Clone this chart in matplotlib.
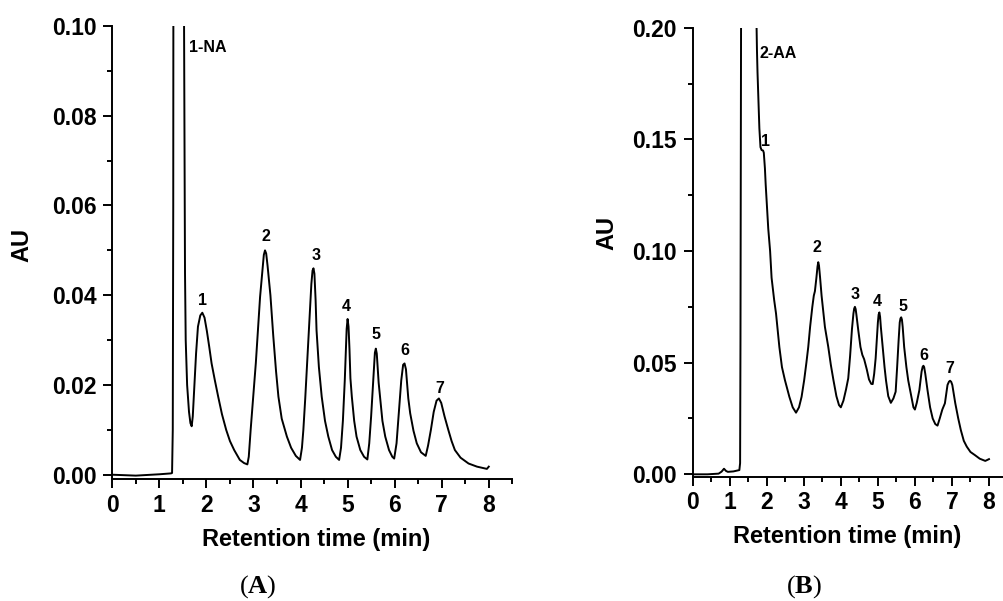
import matplotlib
matplotlib.use("Agg")
import matplotlib.pyplot as plt
from matplotlib.ticker import MultipleLocator, FormatStrFormatter

plt.rcParams['font.family'] = ['Liberation Sans', 'DejaVu Sans']
plt.rcParams['mathtext.fontset'] = 'custom'
plt.rcParams['mathtext.rm'] = 'Liberation Serif'
plt.rcParams['mathtext.bf'] = 'Liberation Serif:bold'

# ---------------- Data: panel A (1-NA) ----------------
time_A = [0.0, 0.5, 1.0, 1.25, 1.27, 1.285, 1.295, 1.30, 1.33, 1.41, 1.49, 1.52, 1.525,
          1.535, 1.545, 1.56, 1.59, 1.63, 1.66, 1.687, 1.71, 1.74, 1.78, 1.82, 1.87, 1.913,
          1.96, 2.01, 2.06, 2.11, 2.18, 2.25, 2.33, 2.42, 2.50, 2.59, 2.71, 2.80, 2.87,
          2.90, 2.94, 3.00, 3.05, 3.10, 3.14, 3.19, 3.22, 3.245, 3.27, 3.30, 3.36, 3.42, 3.48, 3.53,
          3.60, 3.71, 3.80, 3.90, 3.99, 4.03, 4.06, 4.10, 4.14, 4.19, 4.23, 4.255, 4.275, 4.295,
          4.32, 4.34, 4.39, 4.45, 4.52, 4.59, 4.67, 4.75, 4.82, 4.86, 4.90, 4.94, 4.98, 5.00,
          5.02, 5.04, 5.06, 5.09, 5.14, 5.19, 5.27, 5.35, 5.42, 5.46, 5.50, 5.54, 5.58, 5.60,
          5.62, 5.66, 5.69, 5.74, 5.80, 5.88, 5.95, 5.99, 6.04, 6.09, 6.14, 6.18, 6.21,
          6.24, 6.29, 6.33, 6.40, 6.47, 6.56, 6.66, 6.71, 6.77, 6.83, 6.89, 6.94, 6.99,
          7.06, 7.14, 7.21, 7.28, 7.40, 7.57, 7.75, 7.96, 8.0]
au_A = [0.0000, -0.0002, 0.0001, 0.0003, 0.0004, 0.010, 0.060, 0.14, 0.30, 0.40, 0.30, 0.12, 0.100,
        0.070, 0.045, 0.030, 0.020, 0.014, 0.0115, 0.0108, 0.013, 0.019, 0.027, 0.033, 0.0355, 0.0361,
        0.0350, 0.0320, 0.0285, 0.0248, 0.0210, 0.0174, 0.0135, 0.0100, 0.0075, 0.0055, 0.0033, 0.0026, 0.0023,
        0.0040, 0.0100, 0.0180, 0.0249, 0.0330, 0.0396, 0.0455, 0.0490, 0.0500, 0.0493, 0.0465, 0.0400, 0.0310, 0.0230, 0.0174,
        0.0125, 0.0085, 0.0060, 0.0042, 0.0033, 0.0060, 0.0100, 0.0170, 0.0248, 0.0350, 0.0425, 0.0455, 0.0460, 0.0448,
        0.0390, 0.0322, 0.0240, 0.0174, 0.0120, 0.0085, 0.0055, 0.0040, 0.0033, 0.0060, 0.0120, 0.0210, 0.0325, 0.0347,
        0.0330, 0.0280, 0.0215, 0.0174, 0.0120, 0.0085, 0.0055, 0.0040, 0.0034, 0.0070, 0.0130, 0.0200, 0.0272, 0.0281,
        0.0270, 0.0205, 0.0174, 0.0120, 0.0085, 0.0055, 0.0040, 0.0036, 0.0070, 0.0140, 0.0210, 0.0245, 0.0248,
        0.0235, 0.0170, 0.0137, 0.0098, 0.0070, 0.0050, 0.0042, 0.0065, 0.0100, 0.0140, 0.0165, 0.0170, 0.0160,
        0.0130, 0.0100, 0.0075, 0.0055, 0.0038, 0.0025, 0.0018, 0.0013, 0.0018]

labels_A = ["1-NA", "1", "2", "3", "4", "5", "6", "7"]
label_t_A = [1.62, 1.913, 3.26, 4.32, 4.98, 5.60, 6.22, 6.96]
label_y_A = [0.0952, 0.0389, 0.0532, 0.0489, 0.0376, 0.0313, 0.0276, 0.0192]

# ---------------- Data: panel B (2-AA) ----------------
time_B = [0.0, 0.4, 0.7, 0.78, 0.845, 0.90, 0.95, 1.10, 1.26, 1.28, 1.29, 1.305, 1.32, 1.50,
          1.70, 1.72, 1.735, 1.75, 1.77, 1.80, 1.83, 1.86, 1.90, 1.92, 1.95, 1.97, 2.04, 2.09,
          2.13, 2.20, 2.25, 2.34, 2.41, 2.49, 2.61, 2.70, 2.79, 2.87, 2.94, 3.01, 3.07, 3.12,
          3.17, 3.23, 3.27, 3.30, 3.34, 3.37, 3.39, 3.41, 3.44, 3.48, 3.57, 3.66, 3.73, 3.80, 3.88, 3.95,
          4.00, 4.07, 4.14, 4.20, 4.25, 4.30, 4.34, 4.36, 4.38, 4.40, 4.42, 4.47, 4.53, 4.58, 4.63, 4.70,
          4.76, 4.82, 4.86, 4.90, 4.94, 4.97, 5.00, 5.02, 5.04, 5.06, 5.08, 5.13, 5.18, 5.22, 5.28, 5.35,
          5.42, 5.48, 5.52, 5.56, 5.59, 5.61, 5.63, 5.65, 5.67, 5.71, 5.77, 5.82, 5.90, 5.96, 6.00, 6.05,
          6.12, 6.18, 6.21, 6.23, 6.25, 6.28, 6.34, 6.41, 6.48, 6.55, 6.61, 6.67, 6.74, 6.81, 6.88, 6.92, 6.95,
          6.98, 7.01, 7.09, 7.17, 7.24, 7.32, 7.40, 7.50, 7.62, 7.75, 7.90, 8.00]
au_B = [0.0000, 0.0000, 0.0003, 0.0012, 0.0025, 0.0015, 0.0011, 0.0013, 0.0019, 0.0050, 0.060, 0.200, 0.30, 0.40,
        0.30, 0.205, 0.190, 0.180, 0.170, 0.155, 0.1465, 0.1452, 0.1450, 0.1440, 0.1370, 0.1300, 0.1100, 0.1000,
        0.0880, 0.0780, 0.0720, 0.0570, 0.0480, 0.0422, 0.0347, 0.0300, 0.0276, 0.0300, 0.0347, 0.0422, 0.0500, 0.0570,
        0.0660, 0.0750, 0.0800, 0.0820, 0.0880, 0.0930, 0.0950, 0.0935, 0.0880, 0.0800, 0.0660, 0.0571, 0.0490, 0.0422, 0.0350, 0.0310,
        0.0300, 0.0330, 0.0380, 0.0430, 0.0530, 0.0650, 0.0720, 0.0742, 0.0750, 0.0740, 0.0715, 0.0646, 0.0570, 0.0535, 0.0515, 0.0470,
        0.0425, 0.0405, 0.0404, 0.0450, 0.0520, 0.0600, 0.0680, 0.0715, 0.0725, 0.0705, 0.0660, 0.0570, 0.0480, 0.0420, 0.0350, 0.0320,
        0.0340, 0.0370, 0.0480, 0.0600, 0.0680, 0.0698, 0.0703, 0.0692, 0.0660, 0.0570, 0.0480, 0.0420, 0.0350, 0.0300, 0.0290, 0.0320,
        0.0377, 0.0460, 0.0482, 0.0486, 0.0480, 0.0450, 0.0377, 0.0300, 0.0250, 0.0225, 0.0218, 0.0250, 0.0290, 0.0318, 0.0400, 0.0415, 0.0419,
        0.0414, 0.0400, 0.0318, 0.0250, 0.0198, 0.0150, 0.0124, 0.0100, 0.0086, 0.0070, 0.0060, 0.0068]

labels_B = ["2-AA", "1", "2", "3", "4", "5", "6", "7"]
label_t_B = [1.80, 1.97, 3.36, 4.38, 4.99, 5.67, 6.245, 6.95]
label_y_B = [0.1885, 0.1489, 0.1016, 0.0807, 0.0773, 0.0753, 0.0534, 0.0474]

x_ticks = [0, 1, 2, 3, 4, 5, 6, 7, 8]

# ---------------- Figure ----------------
W, H = 1004, 601
fig = plt.figure(figsize=(W / 100, H / 100), dpi=100)

axA = fig.add_axes([112.3 / W, (H - 479.3) / H, 400 / W, (479.3 - 26) / H])
axB = fig.add_axes([692.7 / W, (H - 476.7) / H, 314.8 / W, (476.7 - 27.7) / H])


def style(ax, ymax, ymajor, yminor, ymin):
    for s in ['top', 'right']:
        ax.spines[s].set_visible(False)
    for s in ['left', 'bottom']:
        ax.spines[s].set_linewidth(1.4)
    ax.set_xlim(0, 8.5)
    ax.set_ylim(ymin, ymax)
    ax.set_xticks(x_ticks)
    ax.xaxis.set_minor_locator(MultipleLocator(0.5))
    ax.yaxis.set_major_locator(MultipleLocator(ymajor))
    ax.yaxis.set_minor_locator(MultipleLocator(yminor))
    ax.yaxis.set_major_formatter(FormatStrFormatter('%.2f'))
    ax.tick_params(which='major', direction='out', length=6.3, width=1.4,
                   labelsize=16.5, pad=5)
    ax.tick_params(axis='x', which='major', pad=4)
    ax.tick_params(which='minor', direction='out', length=3.5, width=1.4)
    for lab in ax.get_xticklabels() + ax.get_yticklabels():
        lab.set_fontweight('bold')
    ax.set_xlabel('Retention time (min)', fontsize=17, fontweight='bold')
    ax.set_ylabel('AU', fontsize=17, fontweight='bold')


style(axA, 0.10, 0.02, 0.01, -0.00102)
style(axB, 0.20, 0.05, 0.025, -0.00107)

axA.plot(time_A, au_A, color='black', lw=1.4)
axB.plot(time_B, au_B, color='black', lw=1.4)

for lab, t, y in zip(labels_A, label_t_A, label_y_A):
    ha = 'left' if '-' in lab else 'center'
    axA.text(t, y, lab, ha=ha, va='center', fontsize=11.5, fontweight='bold')
for lab, t, y in zip(labels_B, label_t_B, label_y_B):
    ha = 'left' if '-' in lab else 'center'
    axB.text(t, y, lab, ha=ha, va='center', fontsize=11.5, fontweight='bold')

# label anchors: x-label top edge, y-label right edge (after rotation)
axA.xaxis.set_label_coords(0.509, -0.107)
axA.yaxis.set_label_coords(-0.198, 0.517)
axB.xaxis.set_label_coords(0.492, -0.108)
axB.yaxis.set_label_coords(-0.237, 0.543)

fig.text(258 / W, 1 - 587 / H, r'($\mathbf{A}$)', ha='center', va='center',
         fontsize=19, family='Liberation Serif')
fig.text(804 / W, 1 - 587 / H, r'($\mathbf{B}$)', ha='center', va='center',
         fontsize=19, family='Liberation Serif')

fig.savefig('out.png', dpi=100)
